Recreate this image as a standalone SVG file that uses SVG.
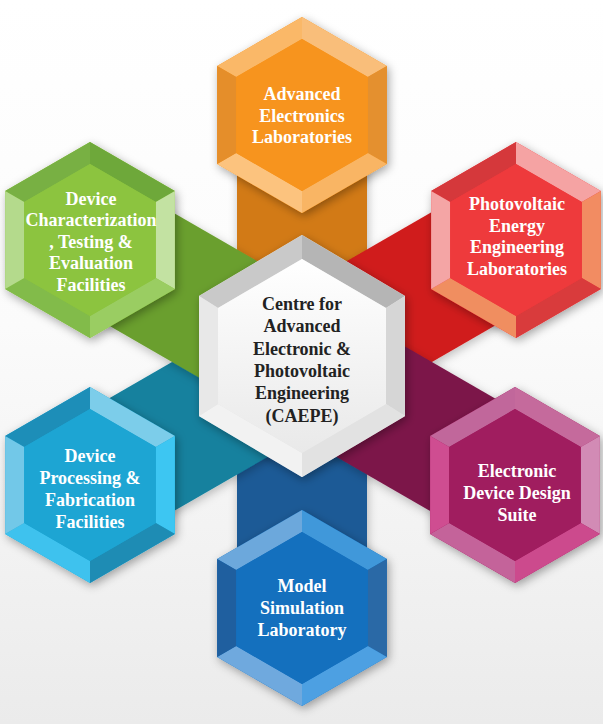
<svg xmlns="http://www.w3.org/2000/svg" xmlns:xlink="http://www.w3.org/1999/xlink" width="603" height="724" viewBox="0 0 603 724">
<defs>
<style>
.t{font-family:"Liberation Serif","Times New Roman",serif;font-weight:bold;font-size:18px;text-anchor:middle;fill:#ffffff}
.tc{fill:#222222}
</style>
<linearGradient id="bg" x1="0" y1="0" x2="0" y2="1">
<stop offset="0" stop-color="#ffffff"/>
<stop offset="0.45" stop-color="#fbfbfb"/>
<stop offset="1" stop-color="#ebebeb"/>
</linearGradient>
<linearGradient id="cg" x1="0" y1="0" x2="0" y2="1">
<stop offset="0" stop-color="#ffffff"/>
<stop offset="1" stop-color="#e9e9e9"/>
</linearGradient>
<filter id="sh" x="-30%" y="-30%" width="160%" height="160%">
<feDropShadow dx="2" dy="3" stdDeviation="5" flood-color="#000" flood-opacity="0.35"/>
</filter>
<filter id="bsh" x="-30%" y="-30%" width="160%" height="160%">
<feDropShadow dx="1" dy="3" stdDeviation="5" flood-color="#000" flood-opacity="0.25"/>
</filter>
<path id="ho" d="M0,-98 L84.87,-49 L84.87,49 L0,98 L-84.87,49 L-84.87,-49 Z"/>
<path id="ftl" d="M-84.87,-49 L0,-98 L0,-76 L-65.82,-38 Z"/>
<path id="ftr" d="M0,-98 L84.87,-49 L65.82,-38 L0,-76 Z"/>
<path id="fr" d="M84.87,-49 L84.87,49 L65.82,38 L65.82,-38 Z"/>
<path id="fbr" d="M84.87,49 L0,98 L0,76 L65.82,38 Z"/>
<path id="fbl" d="M0,98 L-84.87,49 L-65.82,38 L0,76 Z"/>
<path id="fl" d="M-84.87,49 L-84.87,-49 L-65.82,-38 L-65.82,38 Z"/>
<path id="fi" d="M0,-76 L65.82,-38 L65.82,38 L0,76 L-65.82,38 L-65.82,-38 Z"/>
</defs>

<rect x="0" y="0" width="603" height="724" fill="url(#bg)"/>

<g id="connectors">
<rect id="band-top" x="237" y="115" width="130" height="247" fill="#d27a12" filter="url(#bsh)"/>
<rect id="band-bottom" x="237" y="362" width="130" height="246" fill="#1d5a96" filter="url(#bsh)"/>
<polygon id="band-ll" points="269.5,305.7 57.3,428.2 122.3,540.8 334.5,418.3" fill="#13819e" filter="url(#bsh)"/>
<polygon id="band-ur" points="269.5,305.7 481.7,183.2 546.7,295.8 334.5,418.3" fill="#d01b1b" filter="url(#bsh)"/>
<polygon id="band-ul" points="334.5,305.7 122.3,183.2 57.3,295.8 269.5,418.3" fill="#6a9f2e" filter="url(#bsh)"/>
<polygon id="band-lr" points="334.5,305.7 546.7,428.2 481.7,540.8 269.5,418.3" fill="#7b1849" filter="url(#bsh)"/>
</g>

<g id="node-top">
<g transform="translate(302,115)">
<use href="#ho" fill="#f7941e" filter="url(#sh)"/>
<use href="#ftl" fill="#fab868"/>
<use href="#ftr" fill="#f9be7a"/>
<use href="#fr" fill="#e4902f"/>
<use href="#fbr" fill="#f9b564"/>
<use href="#fbl" fill="#fcc37e"/>
<use href="#fl" fill="#e58e2a"/>
<use href="#fi" fill="#f7941e"/>
</g>
<text class="t"><tspan x="302" y="100">Advanced</tspan><tspan x="302" y="121.7">Electronics</tspan><tspan x="302" y="143.3">Laboratories</tspan></text>
</g>

<g id="node-ul">
<g transform="translate(90,240)">
<use href="#ho" fill="#8cc43f" filter="url(#sh)"/>
<use href="#ftl" fill="#78b043"/>
<use href="#ftr" fill="#6ea83a"/>
<use href="#fr" fill="#c3e2a2"/>
<use href="#fbr" fill="#9acd62"/>
<use href="#fbl" fill="#82bb4a"/>
<use href="#fl" fill="#b4da8c"/>
<use href="#fi" fill="#8cc43f"/>
</g>
<text class="t"><tspan x="91" y="204.5">Device</tspan><tspan x="91" y="226">Characterization</tspan><tspan x="91" y="247.5">, Testing &amp;</tspan><tspan x="91" y="269">Evaluation</tspan><tspan x="91" y="290.5">Facilities</tspan></text>
</g>

<g id="node-ur">
<g transform="translate(516,240)">
<use href="#ho" fill="#ee3a3c" filter="url(#sh)"/>
<use href="#ftl" fill="#d5383b"/>
<use href="#ftr" fill="#f5a3a3"/>
<use href="#fr" fill="#f28c62"/>
<use href="#fbr" fill="#d93b3c"/>
<use href="#fbl" fill="#f08e60"/>
<use href="#fl" fill="#f4a5a5"/>
<use href="#fi" fill="#ee3a3c"/>
</g>
<text class="t"><tspan x="517" y="210">Photovoltaic</tspan><tspan x="517" y="231.5">Energy</tspan><tspan x="517" y="253">Engineering</tspan><tspan x="517" y="274.5">Laboratories</tspan></text>
</g>

<g id="node-ll">
<g transform="translate(90,485)">
<use href="#ho" fill="#1da5d3" filter="url(#sh)"/>
<use href="#ftl" fill="#1d8eb8"/>
<use href="#ftr" fill="#7ccdea"/>
<use href="#fr" fill="#3dc6f2"/>
<use href="#fbr" fill="#1e8cb4"/>
<use href="#fbl" fill="#3ec2ee"/>
<use href="#fl" fill="#72c8e8"/>
<use href="#fi" fill="#1da5d3"/>
</g>
<text class="t"><tspan x="90" y="462">Device</tspan><tspan x="90" y="484">Processing &amp;</tspan><tspan x="90" y="506">Fabrication</tspan><tspan x="90" y="528">Facilities</tspan></text>
</g>

<g id="node-lr">
<g transform="translate(515,485)">
<use href="#ho" fill="#a01d5f" filter="url(#sh)"/>
<use href="#ftl" fill="#c1679b"/>
<use href="#ftr" fill="#c56a9c"/>
<use href="#fr" fill="#d28bb5"/>
<use href="#fbr" fill="#cc4a8d"/>
<use href="#fbl" fill="#c4639a"/>
<use href="#fl" fill="#cf4d91"/>
<use href="#fi" fill="#a01d5f"/>
</g>
<text class="t"><tspan x="517" y="477">Electronic</tspan><tspan x="517" y="499">Device Design</tspan><tspan x="517" y="521">Suite</tspan></text>
</g>

<g id="node-bottom">
<g transform="translate(302,608)">
<use href="#ho" fill="#1470be" filter="url(#sh)"/>
<use href="#ftl" fill="#6ca8dc"/>
<use href="#ftr" fill="#4098da"/>
<use href="#fr" fill="#2a69a6"/>
<use href="#fbr" fill="#4da0e2"/>
<use href="#fbl" fill="#6fa9de"/>
<use href="#fl" fill="#1f5f9f"/>
<use href="#fi" fill="#1470be"/>
</g>
<text class="t"><tspan x="302" y="592">Model</tspan><tspan x="302" y="614">Simulation</tspan><tspan x="302" y="636">Laboratory</tspan></text>
</g>

<g id="node-center">
<g transform="translate(302,356)">
<path d="M0,-121 L103,-60 L103,60 L0,121 L-103,60 L-103,-60 Z" fill="#e6e6e6" filter="url(#sh)"/>
<path d="M-103,-60 L0,-121 L0,-97 L-84,-48 Z" fill="#c9c9c9"/>
<path d="M0,-121 L103,-60 L84,-48 L0,-97 Z" fill="#b5b5b5"/>
<path d="M103,-60 L103,60 L84,48 L84,-48 Z" fill="#d6d6d6"/>
<path d="M103,60 L0,121 L0,97 L84,48 Z" fill="#e2e2e2"/>
<path d="M0,121 L-103,60 L-84,48 L0,97 Z" fill="#f2f2f2"/>
<path d="M-103,60 L-103,-60 L-84,-48 L-84,48 Z" fill="#e8e8e8"/>
<path d="M0,-97 L84,-48 L84,48 L0,97 L-84,48 L-84,-48 Z" fill="url(#cg)"/>
</g>
<text class="t tc"><tspan x="302" y="310">Centre for</tspan><tspan x="302" y="332.3">Advanced</tspan><tspan x="302" y="354.6">Electronic &amp;</tspan><tspan x="302" y="376.9">Photovoltaic</tspan><tspan x="302" y="399.2">Engineering</tspan><tspan x="302" y="421.5">(CAEPE)</tspan></text>
</g>
</svg>
